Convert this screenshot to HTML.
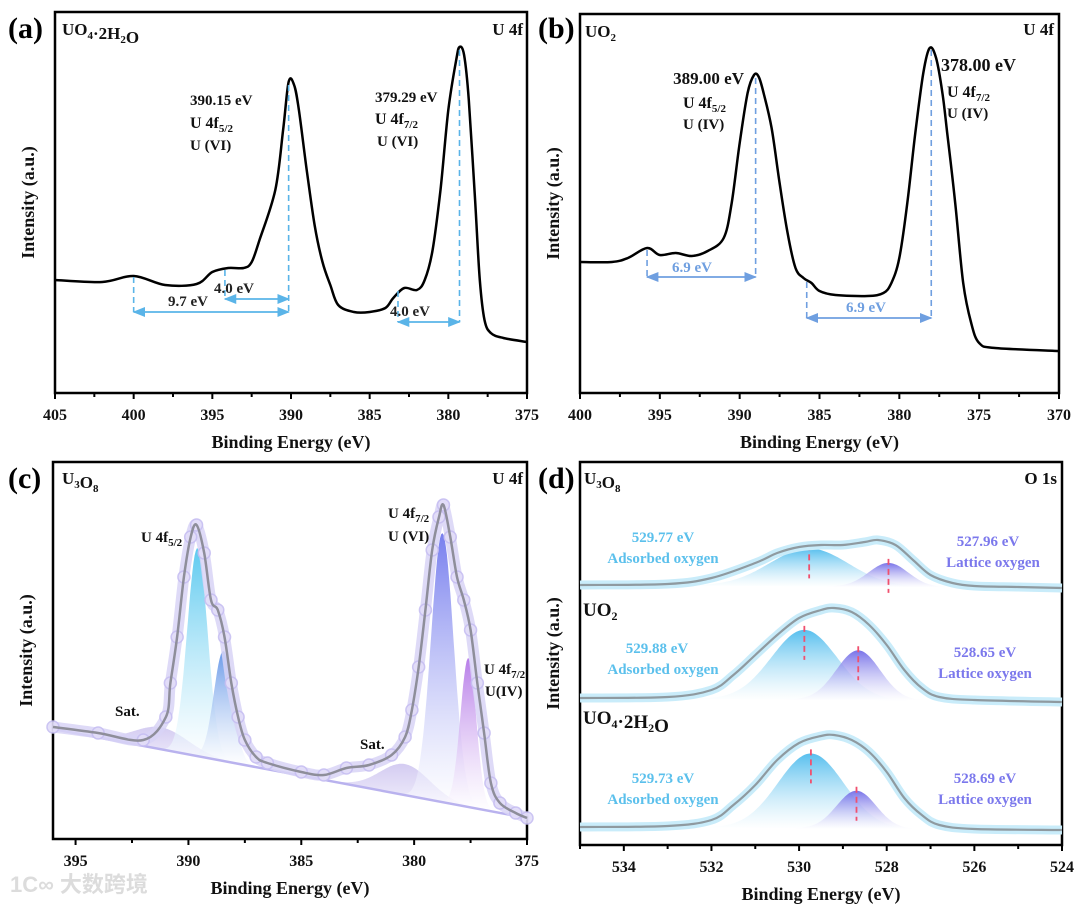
<!DOCTYPE html>
<html><head><meta charset="utf-8"><style>
html,body{margin:0;padding:0;background:#fff;}
svg{display:block;font-family:"Liberation Serif","Noto Serif CJK SC",serif;font-weight:bold;}
</style></head><body>
<svg id="fig" width="1080" height="907" viewBox="0 0 1080 907" xmlns="http://www.w3.org/2000/svg">
<defs>
<linearGradient id="gCyan" x1="0" y1="0" x2="0" y2="1"><stop offset="0" stop-color="#4cc4ee"/><stop offset="1" stop-color="#ffffff" stop-opacity="0.6"/></linearGradient>
<linearGradient id="gBlue" x1="0" y1="0" x2="0" y2="1"><stop offset="0" stop-color="#5a8fe6"/><stop offset="1" stop-color="#ffffff" stop-opacity="0.6"/></linearGradient>
<linearGradient id="gViolet" x1="0" y1="0" x2="0" y2="1"><stop offset="0" stop-color="#6870ec"/><stop offset="1" stop-color="#ffffff" stop-opacity="0.6"/></linearGradient>
<linearGradient id="gPurple" x1="0" y1="0" x2="0" y2="1"><stop offset="0" stop-color="#b070e6"/><stop offset="1" stop-color="#ffffff" stop-opacity="0.6"/></linearGradient>
<linearGradient id="gSat" x1="0" y1="0" x2="0" y2="1"><stop offset="0" stop-color="#cfc6f0"/><stop offset="1" stop-color="#f4f2fc"/></linearGradient>
<linearGradient id="gAds" x1="0" y1="0" x2="0" y2="1"><stop offset="0" stop-color="#45b8ec"/><stop offset="1" stop-color="#ffffff" stop-opacity="0.5"/></linearGradient>
<linearGradient id="gLat" x1="0" y1="0" x2="0" y2="1"><stop offset="0" stop-color="#6a64e6"/><stop offset="1" stop-color="#ffffff" stop-opacity="0.5"/></linearGradient>
<marker id="arr" viewBox="0 0 10 10" refX="9" refY="5" markerWidth="7" markerHeight="7" orient="auto-start-reverse"><path d="M0,1 L10,5 L0,9 z" fill="#5ab4e8"/></marker>
<marker id="arrB" viewBox="0 0 10 10" refX="9" refY="5" markerWidth="7" markerHeight="7" orient="auto-start-reverse"><path d="M0,1 L10,5 L0,9 z" fill="#6f9fe0"/></marker>
</defs>
<text x="8" y="38" font-size="30">(a)</text>
<text x="538" y="38" font-size="30">(b)</text>
<text x="8" y="488" font-size="30">(c)</text>
<text x="538" y="488" font-size="30">(d)</text>
<text x="10" y="892" font-size="22" fill="#dcdcdc" font-family="'Liberation Sans','Noto Sans CJK SC',sans-serif">1C∞ 大数跨境</text>
</svg>
<script>
// ---- Panel (a) UO4·2H2O U 4f ----
const aEV=[405,402,400,398,396,395,394,393,392.5,392,391,390.5,390.15,389.8,389.5,389,388.5,388,387.5,387,386,385,384,383.5,382.8,382,381.5,381,380.5,380,379.5,379.29,379,378.7,378.3,378,377.7,377.3,376.5,375];
const aVal=[113,111,117,108,109,121,125,125,131,153,203,263,311,308,283,223,168,131,108,88,81,81,85,95,105,103,113,143,203,283,333,346,338,293,193,113,73,60,55,51];
const aTicks=[405,400,395,390,385,380,375];
// ---- Panel (b) UO2 U 4f ----
const bEV=[400,398,397,395.8,395,394,393,392,391,390.5,390,389.5,389.1,388.8,388.5,388,387.5,387,386.5,386,385.5,385,384,382,381,380.5,380,379.5,379,378.5,378.1,377.7,377.3,377,376.5,376,375.5,375,374,370];
const bVal=[131,131,135,145,138,140,137,142,155,190,250,300,318,316,300,265,210,160,125,115,110,102,98,97,100,110,135,190,260,320,345,335,300,260,190,110,70,50,45,42];
const bTicks=[400,395,390,385,380,375,370];
// ---- Panel (c) U3O8 U 4f ----
const cEV=[396,394,392,391,390.8,390.5,390.2,389.9,389.64,389.3,389,388.7,388.4,388.1,387.8,387.5,387,386.5,385,384,383,382,381,380.4,380.1,379.8,379.5,379.2,378.9,378.7,378.4,378.1,377.8,377.5,377.2,376.9,376.6,376.2,375.5,375];
const cVal=[112,106,99,122,156,202,262,302,314,286,239,229,202,156,122,99,82,76,67,64,71,74,84,102,129,172,229,289,322,334,302,262,239,209,156,106,56,36,26,21];
const cBg=[110,21];
const cCenters=[391.2,389.6,388.45,380.4,378.75,377.6];
const cHeights=[22,208,110,31,269,149];
const cSigmas=[1.2,0.45,0.42,1.1,0.5,0.35];
const cTicks=[395,390,385,380,375];
// ---- Panel (d) O 1s ----
const dEVtop=[535,533,532,531,530.5,530,529.5,529,528.5,528.2,527.8,527.4,527,526.5,526,525,524];
const dValTop=[260,261,267,282,292,298,300,300,303,305,300,285,270,262,259,258,257];
const dEV=[535,533,532,531.5,531,530.5,530,529.5,529.2,528.8,528.4,528,527.6,527.2,526.8,526,524];
const dValMid=[147,148,155,170,190,210,227,235,237,233,220,200,175,157,148,145,143];
const dValBot=[18,19,25,40,60,85,102,109,110,105,93,73,47,30,20,16,15];
const dBase=[[260,257],[147,143],[18,15]];
const dAdsCenter=[529.77,529.88,529.73];
const dAdsHeight=[38,70,75];
const dAdsSigma=[0.9,0.75,0.75];
const dLatCenter=[527.96,528.65,528.69];
const dLatHeight=[24,50,38];
const dLatSigma=[0.45,0.5,0.45];
const dTicks=[534,532,530,528,526,524];

const NS='http://www.w3.org/2000/svg';
const svg=document.getElementById('fig');
function el(tag,attrs,parent){const e=document.createElementNS(NS,tag);for(const k in attrs)e.setAttribute(k,attrs[k]);(parent||svg).appendChild(e);return e;}
function mkPanel(x0,x1,y0,y1,e0,e1,vmax){return {x0,x1,y0,y1,e0,e1,vmax,
  sx(ev){return x0+(e0-ev)/(e0-e1)*(x1-x0);},
  sy(v){return y1-v/vmax*(y1-y0);}};}
function smooth(pts){let d='M'+pts[0][0].toFixed(1)+','+pts[0][1].toFixed(1);
  for(let i=0;i<pts.length-1;i++){const p0=pts[i-1]||pts[i],p1=pts[i],p2=pts[i+1],p3=pts[i+2]||p2;
    const c1x=p1[0]+(p2[0]-p0[0])/6,c1y=p1[1]+(p2[1]-p0[1])/6,c2x=p2[0]-(p3[0]-p1[0])/6,c2y=p2[1]-(p3[1]-p1[1])/6;
    d+=` C${c1x.toFixed(1)},${c1y.toFixed(1)} ${c2x.toFixed(1)},${c2y.toFixed(1)} ${p2[0].toFixed(1)},${p2[1].toFixed(1)}`;}
  return d;}
function text(x,y,str,size,fill,anchor){const t=el('text',{x,y,'font-size':size,fill:fill||'#111','text-anchor':anchor||'start'});t.textContent=str;return t;}
function sub(t,main,subs,size){ // main parts with subscripts
  t.textContent='';for(let i=0;i<main.length;i++){const a=el('tspan',{},t);a.textContent=main[i];
    if(subs[i]){const b=el('tspan',{'font-size':size,dy:4},t);b.textContent=subs[i];const c=el('tspan',{dy:-4},t);c.textContent='';}}}
function axes(p,ticks,minorStep,name){
  const f=el('rect',{x:p.x0,y:p.y0,width:p.x1-p.x0,height:p.y1-p.y0,fill:'none',stroke:'#000','stroke-width':2.5});
  
  
  const lo=Math.min(p.e0,p.e1),hi=Math.max(p.e0,p.e1);
  for(let e=Math.ceil(lo/minorStep)*minorStep;e<=hi+1e-9;e+=minorStep){
    const major=ticks.some(t=>Math.abs(t-e)<1e-6);const x=p.sx(e);
    const tk=el('line',{x1:x,x2:x,y1:p.y1,y2:p.y1+(major?6:4),stroke:'#000','stroke-width':2});
    
    }
  ticks.forEach(t=>{const lb=text(p.sx(t),p.y1+27,String(t),16,'#111','middle');
    
    });
  const xt=text((p.x0+p.x1)/2,p.y1+55,'Binding Energy (eV)',18,'#111','middle');
  
  
  const cy=(p.y0+p.y1)/2;const yt=text(p.x0-21,cy,'Intensity (a.u.)',18,'#111','middle');
  yt.setAttribute('transform',`rotate(-90 ${p.x0-21} ${cy})`);
  
  }
function dashV(p,ev,v1,v2,color,name){const l=el('line',{x1:p.sx(ev),x2:p.sx(ev),y1:p.sy(v1),y2:p.sy(v2),stroke:color,'stroke-width':1.6,'stroke-dasharray':'6 4'});
  
  }
function arrowH(p,e1,e2,v,color,mk,name){const l=el('line',{x1:p.sx(e1),x2:p.sx(e2),y1:p.sy(v),y2:p.sy(v),stroke:color,'stroke-width':1.8,'marker-start':`url(#${mk})`,'marker-end':`url(#${mk})`});
  
  }

// ===== Panel a =====
const pa=mkPanel(55,527,12,393,405,375,381);
axes(pa,aTicks,2.5,'panel-a');
const la=el('path',{d:smooth(aEV.map((e,i)=>[pa.sx(e),pa.sy(aVal[i])])),fill:'none',stroke:'#000','stroke-width':2.5});


dashV(pa,400,116,81,'#5ab4e8','panel-a-guide-400');
dashV(pa,394.2,123,94,'#5ab4e8','panel-a-guide-394');
dashV(pa,390.15,308,81,'#5ab4e8','panel-a-guide-390');
dashV(pa,383.2,102,71,'#5ab4e8','panel-a-guide-383');
dashV(pa,379.29,343,71,'#5ab4e8','panel-a-guide-379');
arrowH(pa,400,390.15,81,'#5ab4e8','arr','panel-a-arrow-9.7');
arrowH(pa,394.2,390.15,94,'#5ab4e8','arr','panel-a-arrow-4.0-left');
arrowH(pa,383.2,379.29,71,'#5ab4e8','arr','panel-a-arrow-4.0-right');
[[188,306,'9.7 eV'],[234,293,'4.0 eV'],[410,316,'4.0 eV']].forEach(a=>{const t=text(a[0],a[1],a[2],15,'#222','middle');
  
  });
{let t=text(190,105,'390.15 eV',15);
 t=text(190,128,'');sub(t,['U 4f'],['5/2'],11);
 t=text(190,150,'U (VI)',15);
 t=text(375,102,'379.29 eV',15);
 t=text(375,124,'');sub(t,['U 4f'],['7/2'],11);
 t=text(377,146,'U (VI)',15);
 t=text(62,35,'');t.setAttribute('font-size',17);sub(t,['UO','·2H','O'],['4','2',''],11);
 t=text(523,35,'U 4f',17,'#111','end');}

// ===== Panel b =====
const pb=mkPanel(580,1059,14,393,400,370,379);
axes(pb,bTicks,2.5,'panel-b');
const lb=el('path',{d:smooth(bEV.map((e,i)=>[pb.sx(e),pb.sy(bVal[i])])),fill:'none',stroke:'#000','stroke-width':2.5});


dashV(pb,395.8,143,116,'#6f9fe0','panel-b-guide-395.8');
dashV(pb,389,315,116,'#6f9fe0','panel-b-guide-389');
dashV(pb,385.8,111,75,'#6f9fe0','panel-b-guide-385.8');
dashV(pb,378,343,75,'#6f9fe0','panel-b-guide-378');
arrowH(pb,395.8,389,116,'#6f9fe0','arrB','panel-b-arrow-left');
arrowH(pb,385.8,378,75,'#6f9fe0','arrB','panel-b-arrow-right');
{let t=text(692,272,'6.9 eV',15,'#6f9fe0','middle');
 t=text(866,312,'6.9 eV',15,'#6f9fe0','middle');
 t=text(744,84,'389.00 eV',17,'#111','end');
 t=text(683,108,'');sub(t,['U 4f'],['5/2'],11);
 t=text(683,129,'U (IV)',15);
 t=text(941,71,'378.00 eV',18);
 t=text(947,97,'');sub(t,['U 4f'],['7/2'],11);
 t=text(947,118,'U (IV)',15);
 t=text(585,37,'');t.setAttribute('font-size',17);sub(t,['UO'],['2'],11);
 t=text(1054,35,'U 4f',17,'#111','end');}

// ===== Panel c =====
const pc=mkPanel(53,527,462,839,396,375,377);
axes(pc,cTicks,2.5,'panel-c');
function bgC(e){return cBg[0]+(cBg[1]-cBg[0])*(396-e)/21;}
const fills=['url(#gSat)','url(#gCyan)','url(#gBlue)','url(#gSat)','url(#gViolet)','url(#gPurple)'];
const compNames=['sat-5/2','u6-4f5/2','u4-4f5/2','sat-7/2','u6-4f7/2','u4-4f7/2'];
cCenters.forEach((c,k)=>{const pts=[];for(let e=c+3.5*cSigmas[k];e>=c-3.5*cSigmas[k];e-=0.05){pts.push([pc.sx(e),pc.sy(bgC(e)+cHeights[k]*Math.exp(-((e-c)**2)/(2*cSigmas[k]**2)))]);}
  let d='M'+pts.map(q=>q[0].toFixed(1)+','+q[1].toFixed(1)).join(' L')+' Z';
  const pth=el('path',{d,fill:fills[k],opacity:0.9});
  
  });
const bgl=el('line',{x1:pc.sx(396),y1:pc.sy(cBg[0]),x2:pc.sx(375),y2:pc.sy(cBg[1]),stroke:'#b9b2ee','stroke-width':2.5});


const cPts=cEV.map((e,i)=>[pc.sx(e),pc.sy(cVal[i])]);
const halo=el('path',{d:smooth(cPts),fill:'none',stroke:'#d8d3f6','stroke-width':11,opacity:0.85});


cPts.forEach(q=>{const ci=el('circle',{cx:q[0],cy:q[1],r:6,fill:'#e3def9',stroke:'#c7bff2','stroke-width':1.5,opacity:0.9});
  
  });
const envc=el('path',{d:smooth(cPts),fill:'none',stroke:'#8e8e9a','stroke-width':2.5});


{let t=text(141,542,'');t.setAttribute('font-size',15);sub(t,['U 4f'],['5/2'],11);
 t=text(115,716,'Sat.',15);
 t=text(360,749,'Sat.',15);
 t=text(388,518,'');t.setAttribute('font-size',15);sub(t,['U 4f'],['7/2'],11);
 t=text(388,541,'U (VI)',15);
 t=text(484,674,'');t.setAttribute('font-size',15);sub(t,['U 4f'],['7/2'],11);
 t=text(485,696,'U(IV)',15);
 t=text(62,484,'');t.setAttribute('font-size',17);sub(t,['U','O'],['3','8'],11);
 t=text(523,484,'U 4f',17,'#111','end');}

// ===== Panel d =====
const pd=mkPanel(580,1062,462,845,535,524,383);
axes(pd,dTicks,1,'panel-d');
const dSeries=[[dEVtop,dValTop],[dEV,dValMid],[dEV,dValBot]];
const dNames=['u3o8','uo2','uo4'];
dSeries.forEach((s,k)=>{
  const base=e=>dBase[k][0]+(dBase[k][1]-dBase[k][0])*(535-e)/11;
  [[dAdsCenter[k],dAdsHeight[k],dAdsSigma[k],'url(#gAds)','adsorbed'],[dLatCenter[k],dLatHeight[k],dLatSigma[k],'url(#gLat)','lattice']].forEach(cm=>{
    const pts=[];for(let e=cm[0]+3.5*cm[2];e>=cm[0]-3.5*cm[2];e-=0.04){pts.push([pd.sx(e),pd.sy(base(e)+cm[1]*Math.exp(-((e-cm[0])**2)/(2*cm[2]**2)))]);}
    const pth=el('path',{d:'M'+pts.map(q=>q[0].toFixed(1)+','+q[1].toFixed(1)).join(' L')+' Z',fill:cm[3],opacity:0.9});
    
    
    const top=base(cm[0])+cm[1];
    const rl=el('line',{x1:pd.sx(cm[0]),x2:pd.sx(cm[0]),y1:pd.sy(top+4),y2:pd.sy(top-30),stroke:'#f0506e','stroke-width':1.8,'stroke-dasharray':'6 4'});
    
    });
  const pts=s[0].map((e,i)=>[pd.sx(e),pd.sy(s[1][i])]);
  const h=el('path',{d:smooth(pts),fill:'none',stroke:'#c9ecfa','stroke-width':9});
  
  
  const ln=el('path',{d:smooth(pts),fill:'none',stroke:'#8f9aa0','stroke-width':2.2});
  
  });
const dLabels=[[663,542,'529.77 eV','#5bc0ec'],[663,563,'Adsorbed oxygen','#5bc0ec'],[988,546,'527.96 eV','#7b78ec'],[993,567,'Lattice oxygen','#7b78ec'],
 [657,653,'529.88 eV','#5bc0ec'],[663,674,'Adsorbed oxygen','#5bc0ec'],[985,657,'528.65 eV','#7b78ec'],[985,678,'Lattice oxygen','#7b78ec'],
 [663,783,'529.73 eV','#5bc0ec'],[663,804,'Adsorbed oxygen','#5bc0ec'],[985,783,'528.69 eV','#7b78ec'],[985,804,'Lattice oxygen','#7b78ec']];
dLabels.forEach(a=>{const t=text(a[0],a[1],a[2],15,a[3],'middle');
  
  });
{let t=text(584,484,'');t.setAttribute('font-size',17);sub(t,['U','O'],['3','8'],11);
 t=text(583,616,'');t.setAttribute('font-size',19);sub(t,['UO'],['2'],12);
 t=text(583,724,'');t.setAttribute('font-size',19);sub(t,['UO','·2H','O'],['4','2',''],12);
 t=text(1057,484,'O 1s',17,'#111','end');}
</script>
</body></html>
